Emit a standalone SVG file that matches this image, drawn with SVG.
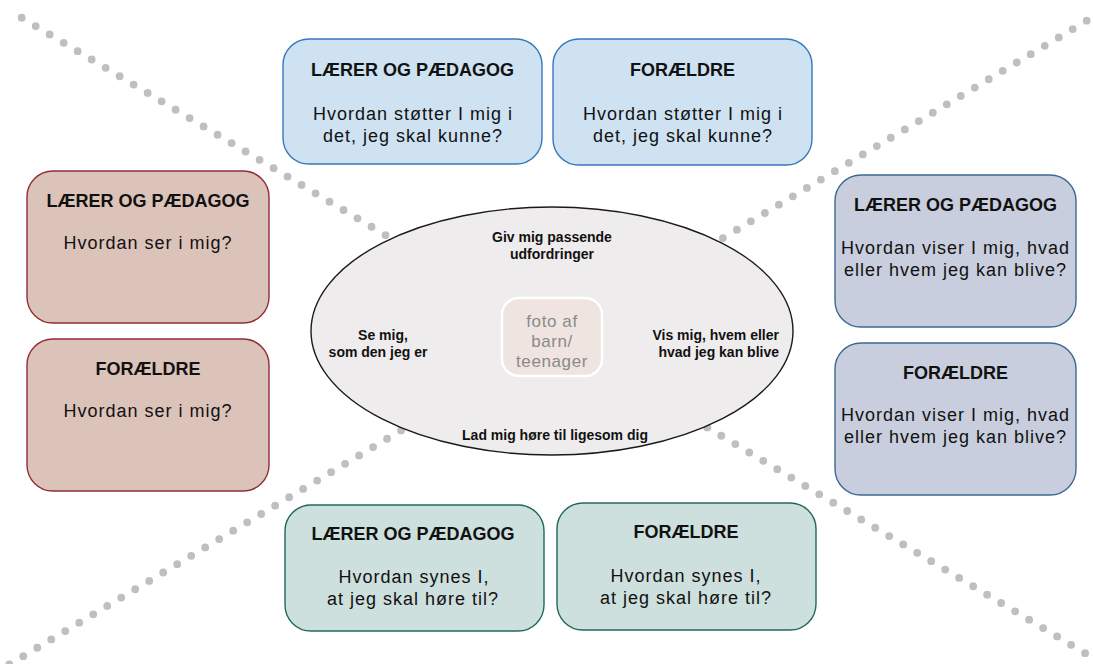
<svg xmlns="http://www.w3.org/2000/svg" width="1093" height="664" viewBox="0 0 1093 664">
  <style>
    .dots { fill: none; stroke: #bfbfc1; stroke-width: 7.8; stroke-linecap: round; stroke-dasharray: 0 16.3; }
    .box { stroke-width: 1.4; }
    .blue { fill: #cfe2f2; stroke: #3579bd; }
    .rose { fill: #dcc3b9; stroke: #8e2f35; }
    .slate { fill: #c8cedd; stroke: #3d6893; }
    .sage { fill: #cde0dd; stroke: #1f6a5e; }
    .title { font-family: "Liberation Sans", Arial, sans-serif; font-weight: bold; font-size: 18px; fill: #111; text-anchor: middle; }
    .body { font-family: "Liberation Sans", Arial, sans-serif; font-size: 18px; letter-spacing: 1px; fill: #111; text-anchor: middle; }
    .wish { font-family: "Liberation Sans", Arial, sans-serif; font-weight: bold; font-size: 14px; fill: #111; }
    .photo { font-family: "Liberation Sans", Arial, sans-serif; font-size: 17px; letter-spacing: 0.6px; fill: #8a8a8a; text-anchor: middle; }
  </style>

  <!-- dotted diagonals crossing behind the centre -->
  <g id="dividers">
    <line class="dots" x1="21.7" y1="17.7" x2="1140.9" y2="686.5"/>
    <line class="dots" x1="1086.7" y1="20.7" x2="-31.9" y2="689.1"/>
  </g>

  <!-- centre: the child and four wishes -->
  <g id="centre">
    <ellipse cx="552" cy="331" rx="241" ry="124" fill="#eeecec" stroke="#1a1a1a" stroke-width="1.4"/>
    <rect x="502" y="298" width="100" height="78" rx="17" fill="#efe4df" stroke="#ffffff" stroke-width="2.5"/>
    <text class="photo" x="552" y="327">foto af</text>
    <text class="photo" x="552" y="347">barn/</text>
    <text class="photo" x="552" y="367">teenager</text>
    <text class="wish" x="552" y="242" text-anchor="middle">Giv mig passende</text>
    <text class="wish" x="552" y="259" text-anchor="middle">udfordringer</text>
    <text class="wish" x="383" y="340" text-anchor="middle">Se mig,</text>
    <text class="wish" x="378" y="357" text-anchor="middle">som den jeg er</text>
    <text class="wish" x="779" y="340" text-anchor="end">Vis mig, hvem eller</text>
    <text class="wish" x="779" y="357" text-anchor="end">hvad jeg kan blive</text>
    <text class="wish" x="555" y="440" text-anchor="middle">Lad mig høre til ligesom dig</text>
  </g>

  <!-- top: support -->
  <g id="top-teacher">
    <rect class="box blue" x="283" y="39" width="259" height="125" rx="26"/>
    <text class="title" x="412.5" y="76">LÆRER OG PÆDAGOG</text>
    <text class="body" x="413" y="120">Hvordan støtter I mig i</text>
    <text class="body" x="413" y="142">det, jeg skal kunne?</text>
  </g>
  <g id="top-parents">
    <rect class="box blue" x="553" y="39" width="259" height="126" rx="26"/>
    <text class="title" x="682.5" y="76">FORÆLDRE</text>
    <text class="body" x="683" y="120">Hvordan støtter I mig i</text>
    <text class="body" x="683" y="142">det, jeg skal kunne?</text>
  </g>

  <!-- left: being seen -->
  <g id="left-teacher">
    <rect class="box rose" x="27" y="171" width="242" height="152" rx="26"/>
    <text class="title" x="148" y="207">LÆRER OG PÆDAGOG</text>
    <text class="body" x="148" y="249">Hvordan ser i mig?</text>
  </g>
  <g id="left-parents">
    <rect class="box rose" x="27" y="339" width="242" height="152" rx="26"/>
    <text class="title" x="148" y="375">FORÆLDRE</text>
    <text class="body" x="148" y="417">Hvordan ser i mig?</text>
  </g>

  <!-- right: who I can become -->
  <g id="right-teacher">
    <rect class="box slate" x="835" y="175" width="241" height="152" rx="26"/>
    <text class="title" x="955.5" y="211">LÆRER OG PÆDAGOG</text>
    <text class="body" x="955.5" y="254">Hvordan viser I mig, hvad</text>
    <text class="body" x="955.5" y="276">eller hvem jeg kan blive?</text>
  </g>
  <g id="right-parents">
    <rect class="box slate" x="835" y="343" width="241" height="152" rx="26"/>
    <text class="title" x="955.5" y="379">FORÆLDRE</text>
    <text class="body" x="955.5" y="421">Hvordan viser I mig, hvad</text>
    <text class="body" x="955.5" y="443">eller hvem jeg kan blive?</text>
  </g>

  <!-- bottom: belonging -->
  <g id="bottom-teacher">
    <rect class="box sage" x="285" y="505" width="259" height="126" rx="26"/>
    <text class="title" x="413" y="540">LÆRER OG PÆDAGOG</text>
    <text class="body" x="414" y="583">Hvordan synes I,</text>
    <text class="body" x="413" y="605">at jeg skal høre til?</text>
  </g>
  <g id="bottom-parents">
    <rect class="box sage" x="557" y="503" width="259" height="127" rx="26"/>
    <text class="title" x="686" y="538">FORÆLDRE</text>
    <text class="body" x="686" y="582">Hvordan synes I,</text>
    <text class="body" x="686" y="604">at jeg skal høre til?</text>
  </g>
</svg>
